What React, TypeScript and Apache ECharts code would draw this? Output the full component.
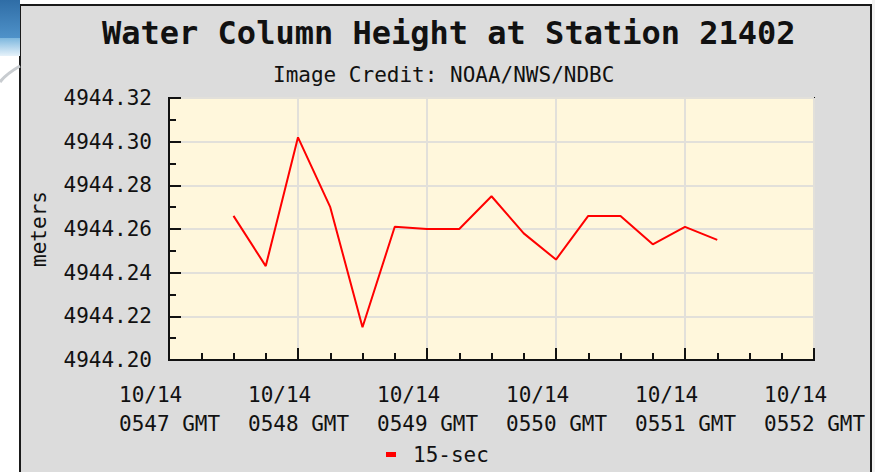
import React, { useEffect, useRef } from "react";
import * as echarts from "echarts";

// seconds after 10/14 05:47:00 GMT
const sampleSeconds = [30, 45, 60, 75, 90, 105, 120, 135, 150, 165, 180, 195, 210, 225, 240, 255];
const heights = [
  4944.266, 4944.243, 4944.302, 4944.27, 4944.215, 4944.261, 4944.26, 4944.26,
  4944.275, 4944.258, 4944.246, 4944.266, 4944.266, 4944.253, 4944.261, 4944.255,
];
const xTickDate = "10/14";
const xTickTimes = ["0547", "0548", "0549", "0550", "0551", "0552"];
const seriesName = "15-sec";

const MONO = "'DejaVu Sans Mono', 'Liberation Mono', monospace";

export default function App() {
  const ref = useRef<HTMLDivElement>(null);
  useEffect(() => {
    if (!ref.current) return;
    const chart = echarts.init(ref.current, undefined, { renderer: "svg" });
    chart.setOption({
      animation: false,
      backgroundColor: "#ffffff",
      graphic: [
        { type: "rect", shape: { x: 0, y: 0, width: 20, height: 38 }, style: { fill: new echarts.graphic.LinearGradient(0, 0, 0, 1, [{ offset: 0, color: "#2f6da6" }, { offset: 1, color: "#4f92c9" }]) }, silent: true },
        { type: "rect", shape: { x: 0, y: 38, width: 20, height: 18 }, style: { fill: new echarts.graphic.LinearGradient(0, 0, 0, 1, [{ offset: 0, color: "#7db7de" }, { offset: 1, color: "#e6f2fa" }]) }, silent: true },
        { type: "bezierCurve", shape: { x1: 0, y1: 82, x2: 20, y2: 66, cpx1: 6, cpy1: 74 }, style: { stroke: "#c8ccd0", lineWidth: 3, fill: "none" }, silent: true },
        { type: "rect", shape: { x: 872, y: 0, width: 3, height: 472 }, style: { fill: "#f2f2f2" }, silent: true },
        { type: "rect", z: -1, shape: { x: 20, y: 5, width: 851, height: 470 }, style: { fill: "#dcdcdc", stroke: "#1a1a1a", lineWidth: 2 }, silent: true },
      ],
      title: [
        {
          text: "Water Column Height at Station 21402",
          left: 97,
          top: 12,
          textStyle: { fontFamily: MONO, fontSize: 32, fontWeight: "bold", color: "#111" },
        },
        {
          text: "Image Credit: NOAA/NWS/NDBC",
          left: 268,
          top: 59,
          textStyle: { fontFamily: MONO, fontSize: 21, fontWeight: "normal", color: "#111" },
        },
      ],
      legend: {
        left: 381,
        top: 439,
        icon: "rect",
        itemWidth: 10,
        itemHeight: 5,
        data: [seriesName],
        textStyle: { fontFamily: MONO, fontSize: 21, color: "#111", padding: [0, 0, 0, 12] },
      },
      grid: {
        left: 169,
        top: 98,
        width: 645,
        height: 262,
        show: true,
        backgroundColor: "#fff7dc",
        borderColor: "#111",
        borderWidth: 2,
      },
      xAxis: {
        type: "value",
        min: 0,
        max: 300,
        interval: 60,
        axisLine: { show: true, lineStyle: { color: "#111", width: 2 } },
        axisTick: { show: true, inside: true, length: 12, lineStyle: { color: "#111", width: 2 } },
        minorTick: { show: true, splitNumber: 4, length: 7, lineStyle: { color: "#111", width: 2 } },
        splitLine: { show: true, lineStyle: { color: "#e2e0da", width: 2 } },
        axisLabel: {
          margin: 20,
          formatter: (v: number) => {
            const t = xTickTimes[Math.round(v / 60)] ?? "";
            return `{a|${xTickDate}}\n{a|${t} GMT}`;
          },
          rich: {
            a: { width: 100, align: "left", fontFamily: MONO, fontSize: 21, lineHeight: 29, color: "#111" },
          },
        },
      },
      yAxis: {
        type: "value",
        min: 4944.2,
        max: 4944.32,
        interval: 0.02,
        name: "meters",
        nameLocation: "middle",
        nameRotate: 90,
        nameGap: 120,
        nameTextStyle: { fontFamily: MONO, fontSize: 21, color: "#111" },
        axisLine: { show: true, lineStyle: { color: "#111", width: 2 } },
        axisTick: { show: true, inside: true, length: 12, lineStyle: { color: "#111", width: 2 } },
        minorTick: { show: true, splitNumber: 2, length: 7, lineStyle: { color: "#111", width: 2 } },
        splitLine: { show: true, lineStyle: { color: "#e2e0da", width: 2 } },
        axisLabel: {
          margin: 17,
          fontFamily: MONO,
          fontSize: 21,
          color: "#111",
          formatter: (v: number) => v.toFixed(2),
        },
      },
      series: [
        {
          name: seriesName,
          type: "line",
          data: sampleSeconds.map((s, i) => [s, heights[i]]),
          showSymbol: false,
          symbol: "none",
          color: "#ff0000",
          lineStyle: { color: "#ff0000", width: 2 },
        },
      ],
    });
    return () => chart.dispose();
  }, []);
  return <div ref={ref} style={{ position: "absolute", left: 0, top: 0, width: 875, height: 472 }} />;
}
